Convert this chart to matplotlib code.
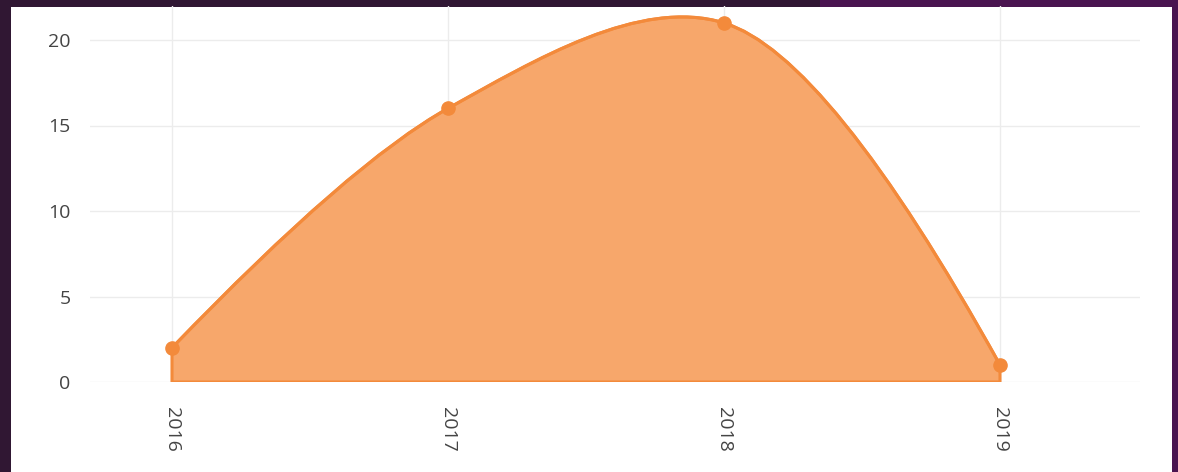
import matplotlib.pyplot as plt
import numpy as np
from matplotlib.path import Path
from matplotlib.patches import PathPatch, Rectangle

years = ["2016", "2017", "2018", "2019"]
values = [2, 16, 21, 1]
y_ticks = [0, 5, 10, 15, 20]

line_col = "#f38a3b"
fill_col = "#f7a76b"
text_col = "#444444"
grid_col = "#ececec"

plt.rcParams["font.family"] = ["Open Sans", "DejaVu Sans"]

W, H = 1178, 472
fig = plt.figure(figsize=(W / 100, H / 100), dpi=100)
fig.patch.set_facecolor("#301733")

# background strips and white panel (behind the axes)
fig.patches.append(Rectangle((820 / W, 0), (W - 820) / W, 1, transform=fig.transFigure,
                             facecolor="#4a1450", edgecolor="none", zorder=-2))
fig.patches.append(Rectangle((11 / W, 0), (1172 - 11) / W, (H - 7) / H, transform=fig.transFigure,
                             facecolor="white", edgecolor="none", zorder=-1))

ax = fig.add_axes([90 / W, (H - 382) / H, (1140 - 90) / W, (382 - 5.8) / H])
ax.set_facecolor("none")
x = np.arange(len(years))
ax.set_xlim((90 - 172) / 276, (1140 - 172) / 276)
ax.set_ylim(0, 22)


def tangent(p0, p1, p2, smooth=1.0):
    # catmull-rom style tangents, as plotly does for line shape "spline"
    d1 = p0 - p1
    d2 = p2 - p1
    d1a = np.hypot(*d1) ** 0.5
    d2a = np.hypot(*d2) ** 0.5
    num = (d2a * d2a * d1 - d1a * d1a * d2) * smooth
    den1 = 3 * d2a * (d1a + d2a)
    den2 = 3 * d1a * (d1a + d2a)
    return p1 + num / den1, p1 - num / den2


fig.canvas.draw()
pts = ax.transData.transform(np.column_stack([x, values]))
n = len(pts)
tans = [tangent(pts[i - 1], pts[i], pts[i + 1]) for i in range(1, n - 1)]

verts = [pts[0], tans[0][0], pts[1]]
codes = [Path.MOVETO, Path.CURVE3, Path.CURVE3]
for i in range(2, n - 1):
    verts += [tans[i - 2][1], tans[i - 1][0], pts[i]]
    codes += [Path.CURVE4] * 3
verts += [tans[-1][1], pts[-1]]
codes += [Path.CURVE3, Path.CURVE3]

verts_d = ax.transData.inverted().transform(np.array(verts))
line_path = Path(verts_d, codes)
fill_verts = np.vstack([verts_d, [[x[-1], 0], [x[0], 0], verts_d[0]]])
fill_codes = codes + [Path.LINETO, Path.LINETO, Path.CLOSEPOLY]
fill_path = Path(fill_verts, fill_codes)

ax.add_patch(PathPatch(fill_path, facecolor=fill_col, edgecolor=line_col, lw=2.2, zorder=2))
ax.add_patch(PathPatch(line_path, facecolor="none", edgecolor=line_col, lw=2.2, zorder=3))
ax.plot(x, values, "o", color=line_col, ms=9.5, zorder=4)

ax.set_xticks(x)
ax.set_xticklabels(years, rotation=270)
ax.set_yticks(y_ticks)
ax.grid(True, color=grid_col, lw=1)
ax.set_axisbelow(True)
ax.tick_params(axis="both", length=0, labelsize=14, colors=text_col)
ax.tick_params(axis="y", pad=14)
ax.tick_params(axis="x", pad=18)
for s in ax.spines.values():
    s.set_visible(False)

fig.savefig("out.png", dpi=100, facecolor=fig.get_facecolor())
